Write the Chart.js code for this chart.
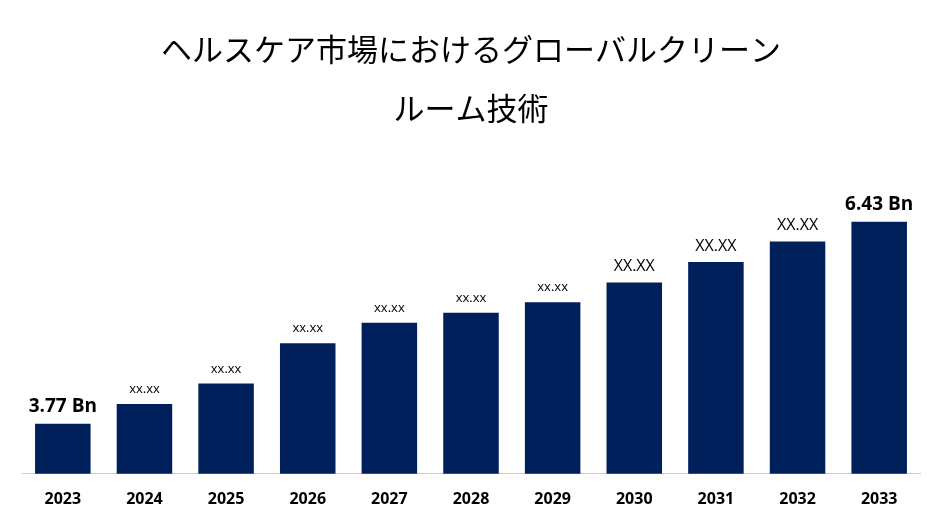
<!DOCTYPE html>
<html>
<head>
<meta charset="utf-8">
<script src="https://cdn.jsdelivr.net/npm/chart.js@4/dist/chart.umd.min.js"></script>
<style>
  html, body { margin: 0; padding: 0; background: #fff; }
  #wrap { width: 942px; height: 529px; }
</style>
</head>
<body>
<div id="wrap"><canvas id="marketChart"></canvas></div>
<script>
const years = ['2023', '2024', '2025', '2026', '2027', '2028', '2029', '2030', '2031', '2032', '2033'];
const marketValues = [3.77, 4.03, 4.30, 4.83, 5.10, 5.23, 5.37, 5.63, 5.90, 6.17, 6.43];
const valueLabels = ['3.77 Bn', 'xx.xx', 'xx.xx', 'xx.xx', 'xx.xx', 'xx.xx', 'xx.xx', 'XX.XX', 'XX.XX', 'XX.XX', '6.43 Bn'];

// text above each bar
const barLabels = {
    id: 'barLabels',
    afterDatasetsDraw(chart) {
        const ctx = chart.ctx;
        const bars = chart.getDatasetMeta(0).data;
        ctx.save();
        ctx.textAlign = 'center';
        ctx.textBaseline = 'bottom';
        ctx.fillStyle = '#000';
        bars.forEach((bar, i) => {
            const txt = valueLabels[i];
            if (txt.endsWith('Bn')) {
                ctx.font = 'bold 19px "Open Sans", sans-serif';
            } else if (txt === 'XX.XX') {
                ctx.font = '16px "Open Sans", sans-serif';
            } else {
                ctx.font = '13px "Open Sans", sans-serif';
            }
            ctx.fillText(txt, bar.x, bar.y - 8);
        });
        ctx.restore();
    }
};

new Chart(document.getElementById('marketChart'), {
    type: 'bar',
    data: {
        labels: years,
        datasets: [{
            data: marketValues,
            backgroundColor: '#00205b',
            barPercentage: 0.68,
            categoryPercentage: 1.0
        }]
    },
    options: {
        responsive: true,
        maintainAspectRatio: false,
        animation: false,
        layout: { padding: { left: 22, right: 22, top: 12, bottom: 4 } },
        plugins: {
            legend: { display: false },
            tooltip: { enabled: false },
            title: {
                display: true,
                text: ['ヘルスケア市場におけるグローバルクリーン', 'ルーム技術'],
                color: '#000',
                font: { family: '"Noto Sans CJK JP", sans-serif', size: 31, weight: 'normal', lineHeight: 1.9 },
                padding: { top: 8, bottom: 46 }
            }
        },
        scales: {
            x: {
                grid: { display: false, drawTicks: false },
                border: { color: '#ccc' },
                ticks: {
                    color: '#000',
                    padding: 16,
                    font: { family: '"Open Sans", sans-serif', size: 16, weight: 'bold' }
                }
            },
            y: {
                display: false,
                min: 3.11,
                max: 6.93
            }
        }
    },
    plugins: [barLabels]
});
</script>
</body>
</html>
